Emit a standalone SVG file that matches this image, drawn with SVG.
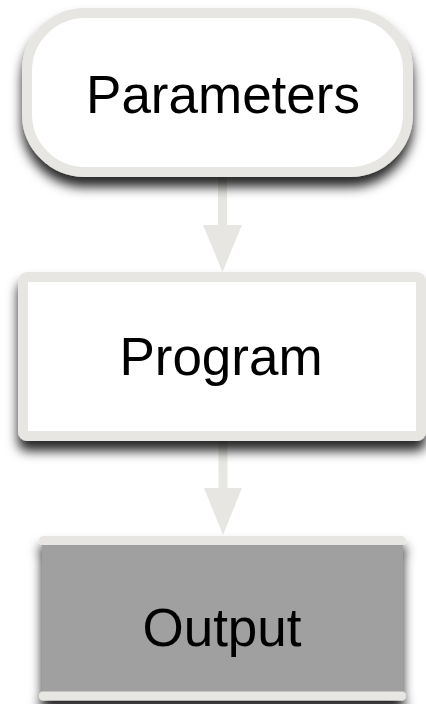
<svg xmlns="http://www.w3.org/2000/svg" width="426" height="704" viewBox="0 0 426 704">
  <defs>
    <filter id="drop" x="-20%" y="-20%" width="140%" height="160%">
      <feGaussianBlur in="SourceAlpha" stdDeviation="6"/>
      <feOffset dx="0" dy="10" result="blur"/>
      <feFlood flood-color="#000" flood-opacity="0.85"/>
      <feComposite in2="blur" operator="in"/>
      <feMerge>
        <feMergeNode/>
        <feMergeNode in="SourceGraphic"/>
      </feMerge>
    </filter>
  </defs>
  <style>
    .frame { fill: #ffffff; stroke: #e7e6e2; stroke-width: 10; }
    .band { stroke: #e7e6e2; stroke-width: 9; stroke-linecap: round; fill: none; }
    .label { font-family: "Liberation Sans", Arial, Helvetica, sans-serif; font-size: 53px; fill: #000; text-anchor: middle; }
    .wire { stroke: #e7e6e2; stroke-width: 9; fill: none; }
    .head { fill: #e7e6e2; }
  </style>
  <rect width="426" height="704" fill="#ffffff"/>

  <g id="connectors">
    <line class="wire" x1="222.5" y1="172" x2="222.5" y2="226"/>
    <polygon class="head" points="203,225 242,225 222.5,272"/>
    <line class="wire" x1="223" y1="436" x2="223" y2="489"/>
    <polygon class="head" points="204,488 242,488 223,535"/>
  </g>

  <g id="parameters">
    <rect class="frame" x="27" y="13" width="381" height="159" rx="58" ry="58" filter="url(#drop)"/>
    <text class="label" x="223" y="113">Parameters</text>
  </g>

  <g id="program">
    <rect class="frame" x="23" y="277" width="398" height="159" rx="4" ry="4" filter="url(#drop)"/>
    <text class="label" x="221" y="375">Program</text>
  </g>

  <g id="output">
    <g filter="url(#drop)">
      <rect x="42" y="540" width="361" height="156" fill="#a0a0a0"/>
      <line class="band" x1="43.5" y1="540.5" x2="401.5" y2="540.5"/>
      <line class="band" x1="43.5" y1="696" x2="401.5" y2="696"/>
    </g>
    <text class="label" x="222" y="646">Output</text>
  </g>
</svg>
